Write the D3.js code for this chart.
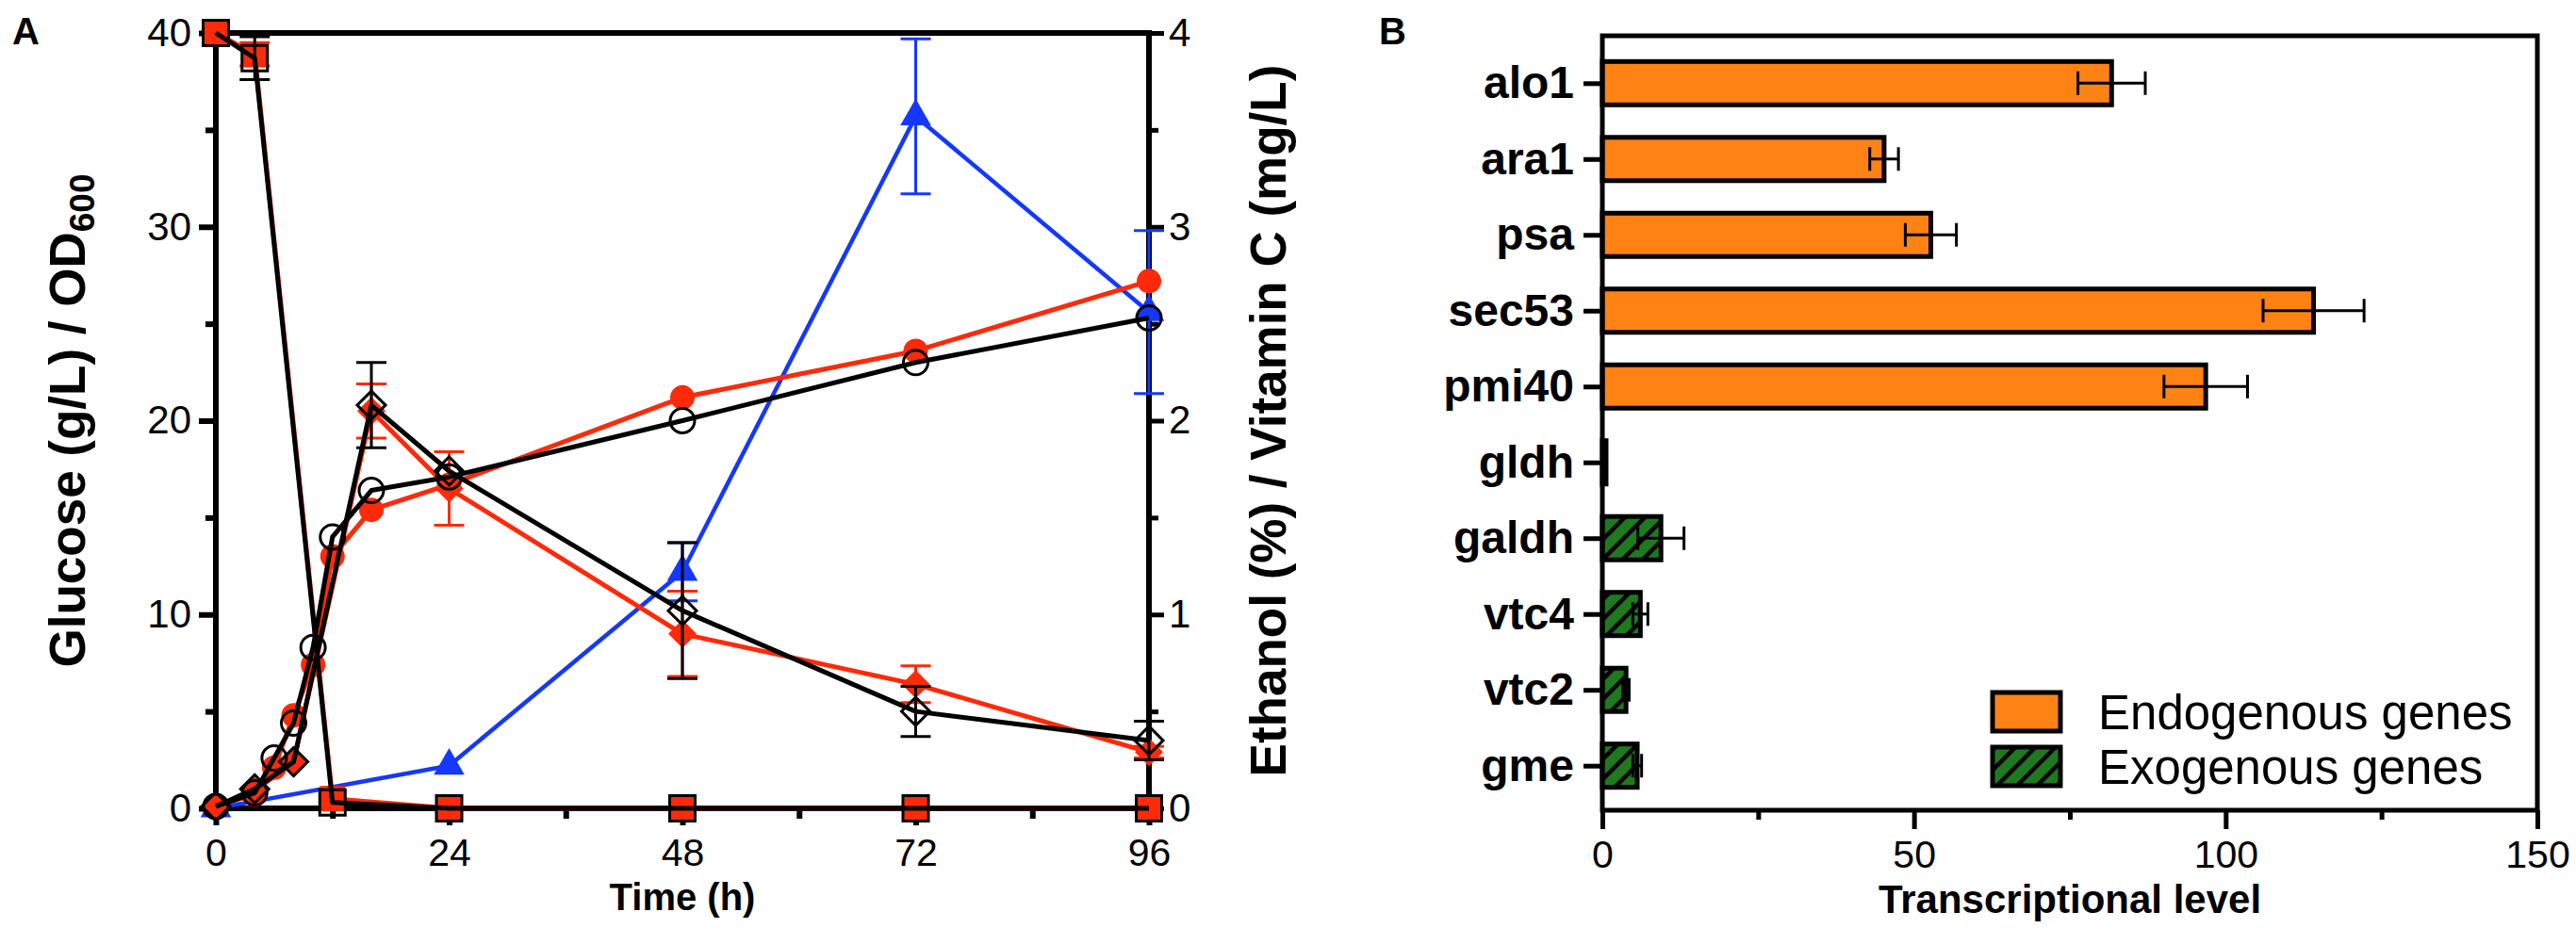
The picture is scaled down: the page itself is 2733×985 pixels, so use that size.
<!DOCTYPE html>
<html lang="en">
<head>
  <meta charset="UTF-8">
  <title>Fermentation profile and transcriptional levels</title>
  <script src="https://d3js.org/d3.v7.min.js"></script>
  <style>
    body { margin: 0; padding: 0; background: #fff; }
    svg { display: block; font-family: "Liberation Sans", Arial, sans-serif; }
  </style>
</head>
<body>
<div id="chart"></div>
<script>
  // ---- panel A data (time in h) ----
  const hoursGlucose   = [0, 4, 12, 24, 48, 72, 96];
  const glucoseEng     = [40, 38.9, 0.5, 0, 0, 0, 0];
  const glucoseEngErr  = [0, 0.6, 0, 0, 0, 0, 0];
  const glucoseCtl     = [40, 38.7, 0.3, 0, 0, 0, 0];
  const glucoseCtlErr  = [0, 1.1, 0, 0, 0, 0, 0];

  const hoursOD = [0, 4, 6, 8, 10, 12, 16, 24, 48, 72, 96];
  const odEng   = [0.15, 0.7, 2.1, 4.8, 7.4, 13.0, 15.4, 16.7, 21.2, 23.6, 27.2];
  const odCtl   = [0.1, 0.8, 2.6, 4.4, 8.3, 14.0, 16.4, 17.1, 20.0, 23.0, 25.3];

  const hoursEthanol  = [0, 4, 8, 16, 24, 48, 72, 96];
  const ethanolEng    = [0.01, 0.09, 0.24, 2.05, 1.65, 0.90, 0.64, 0.29];
  const ethanolEngErr = [0, 0, 0, 0.14, 0.19, 0.22, 0.095, 0.03];
  const ethanolCtl    = [0.01, 0.10, 0.24, 2.08, 1.74, 1.02, 0.50, 0.35];
  const ethanolCtlErr = [0, 0, 0, 0.22, 0, 0.35, 0.13, 0.10];

  const hoursVitC = [0, 24, 48, 72, 96];
  const vitC      = [0, 0.22, 1.22, 3.57, 2.56];
  const vitCErr   = [0, 0, 0.15, 0.40, 0.42];

  const timeTicks = [0, 24, 48, 72, 96];
  const timeMinor = [12, 36, 60, 84];
  const leftTicks = [0, 10, 20, 30, 40];
  const leftMinor = [5, 15, 25, 35];
  const rightTicks = [0, 1, 2, 3, 4];
  const rightMinor = [0.5, 1.5, 2.5, 3.5];

  // ---- panel B data ----
  const genes     = ["alo1", "ara1", "psa", "sec53", "pmi40", "gldh", "galdh", "vtc4", "vtc2", "gme"];
  const levels    = [81.7, 45.2, 52.7, 114.1, 96.8, 0.6, 9.4, 6.1, 3.8, 5.6];
  const levelErr  = [5.4, 2.3, 4.1, 8.1, 6.7, 0, 3.7, 1.2, 0.5, 0.7];
  const origin    = ["Endogenous genes", "Endogenous genes", "Endogenous genes", "Endogenous genes", "Endogenous genes",
                     "Exogenous genes", "Exogenous genes", "Exogenous genes", "Exogenous genes", "Exogenous genes"];
  const levelTicks = [0, 50, 100, 150];
  const levelMinor = [25, 75, 125];
  const legendItems = ["Endogenous genes", "Exogenous genes"];

  // colours
  const RED = "#FF2A0A", BLUE = "#1438FF", ORANGE = "#FF8214", GREEN = "#1F7A1F";

  const W = 2733, H = 985;
  const svg = d3.select("#chart").append("svg")
    .attr("width", W).attr("height", H)
    .style("background", "#fff");

  const defs = svg.append("defs");
  const hatch = defs.append("pattern")
    .attr("id", "hatch")
    .attr("patternUnits", "userSpaceOnUse")
    .attr("width", 15).attr("height", 15)
    .attr("patternTransform", "rotate(45)");
  hatch.append("rect").attr("width", 15).attr("height", 15).attr("fill", GREEN);
  hatch.append("line").attr("x1", 2).attr("x2", 2).attr("y1", 0).attr("y2", 15)
    .attr("stroke", "#000").attr("stroke-width", 5);

  function styleAxis(g, lineW, fontSize, weight) {
    g.attr("font-family", null).attr("font-size", null);
    g.select(".domain").remove();
    g.selectAll(".tick line").attr("stroke", "#000").attr("stroke-width", lineW);
    g.selectAll(".tick text")
      .attr("fill", "#000")
      .style("font-size", fontSize + "px")
      .style("font-weight", weight);
  }

  // =================== PANEL A ===================
  const xA  = d3.scaleLinear().domain([0, 96]).range([229, 1219]);
  const yL  = d3.scaleLinear().domain([0, 40]).range([858, 35]);
  const yR  = d3.scaleLinear().domain([0, 4]).range([858, 35]);

  const gA = svg.append("g");

  // axes
  gA.append("g").attr("transform", `translate(${xA.range()[0]},0)`)
    .call(d3.axisLeft(yL).tickValues(leftMinor).tickSize(11).tickFormat(""))
    .call(g => styleAxis(g, 6, 41, "normal"));
  gA.append("g").attr("transform", `translate(${xA.range()[0]},0)`)
    .call(d3.axisLeft(yL).tickValues(leftTicks).tickSize(18).tickPadding(8))
    .call(g => styleAxis(g, 6, 42, "normal"));

  gA.append("g").attr("transform", `translate(${xA.range()[1]},0)`)
    .call(d3.axisRight(yR).tickValues(rightMinor).tickSize(10).tickFormat(""))
    .call(g => styleAxis(g, 5, 42, "normal"));
  gA.append("g").attr("transform", `translate(${xA.range()[1]},0)`)
    .call(d3.axisRight(yR).tickValues(rightTicks).tickSize(16).tickPadding(5).tickFormat(d3.format("d")))
    .call(g => styleAxis(g, 5, 42, "normal"));

  gA.append("g").attr("transform", `translate(0,${yL(0)})`)
    .call(d3.axisBottom(xA).tickValues(timeMinor).tickSize(11).tickFormat(""))
    .call(g => styleAxis(g, 6, 41, "normal"));
  gA.append("g").attr("transform", `translate(0,${yL(0)})`)
    .call(d3.axisBottom(xA).tickValues(timeTicks).tickSize(18).tickPadding(14))
    .call(g => styleAxis(g, 6, 41, "normal"));

  // frame lines
  const [ax0, ax1] = xA.range();
  gA.append("path")
    .attr("d", `M${ax0},${yL(0)}V${yL(40)}H${ax1}V${yL(0)}Z`)
    .attr("fill", "none").attr("stroke", "#000").attr("stroke-width", 6);

  // axis titles
  const leftTitle = gA.append("text")
    .attr("transform", `translate(90,${(yL(0) + yL(40)) / 2}) rotate(-90)`)
    .attr("text-anchor", "middle")
    .style("font-size", "53px").style("font-weight", "bold");
  leftTitle.append("tspan").text("Glucose (g/L) / OD");
  leftTitle.append("tspan").attr("dy", 10).style("font-size", "37px").text("600");

  gA.append("text")
    .attr("transform", `translate(1364,${(yL(0) + yL(40)) / 2}) rotate(-90)`)
    .attr("text-anchor", "middle")
    .style("font-size", "53px").style("font-weight", "bold")
    .text("Ethanol (%) / Vitamin C (mg/L)");

  gA.append("text")
    .attr("x", (ax0 + ax1) / 2).attr("y", 966)
    .attr("text-anchor", "middle")
    .style("font-size", "40px").style("font-weight", "bold")
    .text("Time (h)");

  gA.append("text").attr("x", 13).attr("y", 47)
    .style("font-size", "40px").style("font-weight", "bold").text("A");

  // series helpers
  const symSquare  = d3.symbol().type(d3.symbolSquare).size(729);
  const symCircle  = d3.symbol().type(d3.symbolCircle).size(530);
  const symDiamond = d3.symbol().type(d3.symbolSquare).size(450);
  const symTri     = d3.symbol().type(d3.symbolTriangle).size(460);

  function series(hours, vals, errs, yScale, opt) {
    const pts = hours.map((h, i) => ({ x: xA(h), y: yScale(vals[i]), v: vals[i], e: errs ? errs[i] : 0 }));
    const g = gA.append("g");
    g.append("path")
      .datum(pts)
      .attr("d", d3.line().x(d => d.x).y(d => d.y))
      .attr("fill", "none")
      .attr("stroke", opt.color)
      .attr("stroke-width", opt.lineW || 5)
      .attr("stroke-linejoin", "round");
    const eb = g.append("g").selectAll("g")
      .data(pts.filter(d => d.e > 0))
      .join("g")
      .attr("stroke", opt.color).attr("stroke-width", 3).attr("fill", "none");
    eb.append("path")
      .attr("d", d => {
        const y1 = yScale(d.v + d.e), y0 = yScale(d.v - d.e);
        return `M${d.x},${y0}V${y1}M${d.x - 16},${y1}H${d.x + 16}M${d.x - 16},${y0}H${d.x + 16}`;
      });
    g.append("g").selectAll("path")
      .data(pts)
      .join("path")
      .attr("transform", d => `translate(${d.x},${d.y})${opt.rotate ? " rotate(45)" : ""}`)
      .attr("d", opt.symbol)
      .attr("fill", opt.filled ? opt.color : "none")
      .attr("stroke", opt.filled ? "none" : "#000")
      .attr("stroke-width", 3);
  }

  // vitamin C (blue, right axis)
  series(hoursVitC, vitC, vitCErr, yR, { color: BLUE, symbol: symTri, filled: true, lineW: 4.5 });
  // engineered strain (red, filled)
  series(hoursGlucose, glucoseEng, glucoseEngErr, yL, { color: RED, symbol: symSquare, filled: true });
  series(hoursOD, odEng, null, yL, { color: RED, symbol: symCircle, filled: true });
  series(hoursEthanol, ethanolEng, ethanolEngErr, yR, { color: RED, symbol: symDiamond, filled: true, rotate: true });
  // control strain (black, open)
  series(hoursGlucose, glucoseCtl, glucoseCtlErr, yL, { color: "#000", symbol: symSquare, filled: false });
  series(hoursOD, odCtl, null, yL, { color: "#000", symbol: symCircle, filled: false });
  series(hoursEthanol, ethanolCtl, ethanolCtlErr, yR, { color: "#000", symbol: symDiamond, filled: false, rotate: true });

  // =================== PANEL B ===================
  const xB = d3.scaleLinear().domain([0, 150]).range([1700, 2692]);
  const yB = d3.scalePoint().domain(genes).range([40, 861]).padding(0.6);
  const barH = 46;
  const fillOf = o => o === "Endogenous genes" ? ORANGE : "url(#hatch)";

  const gB = svg.append("g");
  const rows = genes.map((g, i) => ({ gene: g, v: levels[i], e: levelErr[i], o: origin[i] }));

  gB.selectAll("rect.bar")
    .data(rows)
    .join("rect")
    .attr("class", "bar")
    .attr("x", xB(0))
    .attr("y", d => yB(d.gene) - barH / 2)
    .attr("width", d => xB(d.v) - xB(0))
    .attr("height", barH)
    .attr("fill", d => fillOf(d.o))
    .attr("stroke", "#000")
    .attr("stroke-width", 5);

  gB.append("g").selectAll("path")
    .data(rows.filter(d => d.e > 0))
    .join("path")
    .attr("d", d => {
      const c = yB(d.gene), a = xB(d.v - d.e), b = xB(d.v + d.e);
      return `M${a},${c}H${b}M${a},${c - 12.5}V${c + 12.5}M${b},${c - 12.5}V${c + 12.5}`;
    })
    .attr("fill", "none").attr("stroke", "#000").attr("stroke-width", 3);

  gB.append("g").attr("transform", `translate(${xB(0)},0)`)
    .call(d3.axisLeft(yB).tickSize(20).tickPadding(10))
    .call(g => styleAxis(g, 5, 48, "bold"));
  gB.append("g").attr("transform", `translate(0,860)`)
    .call(d3.axisBottom(xB).tickValues(levelMinor).tickSize(10).tickFormat(""))
    .call(g => styleAxis(g, 5, 41, "normal"));
  gB.append("g").attr("transform", `translate(0,860)`)
    .call(d3.axisBottom(xB).tickValues(levelTicks).tickSize(20).tickPadding(12))
    .call(g => styleAxis(g, 5, 41, "normal"));

  const [bx0, bx1] = xB.range();
  gB.append("path")
    .attr("d", `M${bx0},860V38H${bx1}V860Z`)
    .attr("fill", "none").attr("stroke", "#000").attr("stroke-width", 5);

  gB.append("text")
    .attr("x", (bx0 + bx1) / 2).attr("y", 969)
    .attr("text-anchor", "middle")
    .style("font-size", "42px").style("font-weight", "bold")
    .text("Transcriptional level");

  gB.append("text").attr("x", 1463).attr("y", 47)
    .style("font-size", "40px").style("font-weight", "bold").text("B");

  // legend
  const leg = gB.append("g").selectAll("g")
    .data(legendItems)
    .join("g")
    .attr("transform", (d, i) => `translate(2114,${735 + i * 58})`);
  leg.append("rect")
    .attr("width", 72).attr("height", 41)
    .attr("fill", d => fillOf(d))
    .attr("stroke", "#000").attr("stroke-width", 5);
  leg.append("text")
    .attr("x", 112).attr("y", 39)
    .style("font-size", "51px")
    .text(d => d);
</script>
</body>
</html>
